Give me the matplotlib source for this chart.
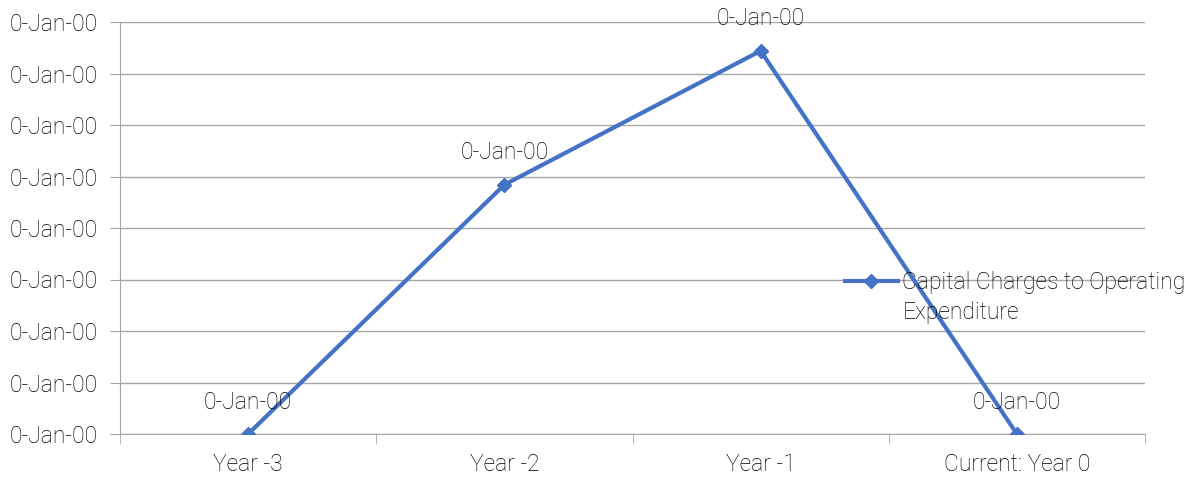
import datetime
import numpy as np
import matplotlib
matplotlib.use("Agg")
import matplotlib.pyplot as plt
from matplotlib.ticker import FuncFormatter, FixedLocator
from matplotlib.transforms import IdentityTransform

categories = ['Year -3', 'Year -2', 'Year -1', 'Current: Year 0']
values = [0.0, 0.00484, 0.00744, 0.0]
series_name = ['Capital Charges to Operating', 'Expenditure']
y_ticks = [0.000, 0.001, 0.002, 0.003, 0.004, 0.005, 0.006, 0.007, 0.008]

plt.rcParams['font.family'] = ['Roboto', 'DejaVu Sans']
plt.rcParams['font.weight'] = 'light'
TEXT = '#000000'
GRID = '#a6a6a6'
BLUE = '#4472c4'
FS = 16.5


#spreadsheet style date serial -> d-Mmm-yy (serial 0 is "0-Jan-00")
def excelDate(v, pos=None):
    days = int(np.floor(v + 1e-9))
    if days == 0:
        return '0-Jan-00'
    d = datetime.date(1899, 12, 31) + datetime.timedelta(days=days)
    return '%d-%s-%s' % (d.day, d.strftime('%b'), d.strftime('%y'))


fig = plt.figure(figsize=(11.97, 4.82), dpi=100)
ax = fig.add_axes([120 / 1197, 48 / 482, 1025 / 1197, 412 / 482])

x = np.arange(len(categories))
ax.plot(x, values, color=BLUE, linewidth=3, marker='D', markersize=7,
        label=series_name[0], zorder=3)

for xi, v in zip(x, values):
    ax.annotate(excelDate(v), (xi, v), xytext=(0, 23), textcoords='offset points',
                ha='center', va='center', fontsize=FS, color=TEXT)

ax.set_xlim(-0.5, len(categories) - 0.5)
ax.set_ylim(0, 0.008)
ax.set_yticks(y_ticks)
ax.yaxis.set_major_formatter(FuncFormatter(excelDate))
ax.set_xticks(x)
ax.set_xticklabels(categories)
ax.xaxis.set_minor_locator(FixedLocator(np.arange(-0.5, len(categories), 1.0)))

ax.grid(axis='y', color=GRID, linewidth=1)
ax.set_axisbelow(True)
for s in ['top', 'right']:
    ax.spines[s].set_visible(False)
ax.spines['left'].set_color(GRID)
ax.spines['bottom'].set_color(GRID)

ax.tick_params(axis='y', length=7, color=GRID, labelsize=FS, labelcolor=TEXT, pad=9)
ax.tick_params(axis='x', which='major', length=0, labelsize=FS, labelcolor=TEXT, pad=14)
ax.tick_params(axis='x', which='minor', length=7, color=GRID)

leg = ax.legend(loc='center left', bbox_to_anchor=(845 / 1197, 199 / 482),
                bbox_transform=fig.transFigure, frameon=False, fontsize=FS,
                handlelength=2.3, handletextpad=0.2, borderpad=0,
                borderaxespad=0, labelcolor=TEXT)

# second line of the series name sits under the legend entry
fig.canvas.draw()
bb = leg.get_texts()[0].get_window_extent()
fig.text(bb.x0, bb.y0 - 30, series_name[1], fontsize=FS, color=TEXT,
         ha='left', va='bottom', transform=IdentityTransform())

fig.savefig('out.png', dpi=100)
